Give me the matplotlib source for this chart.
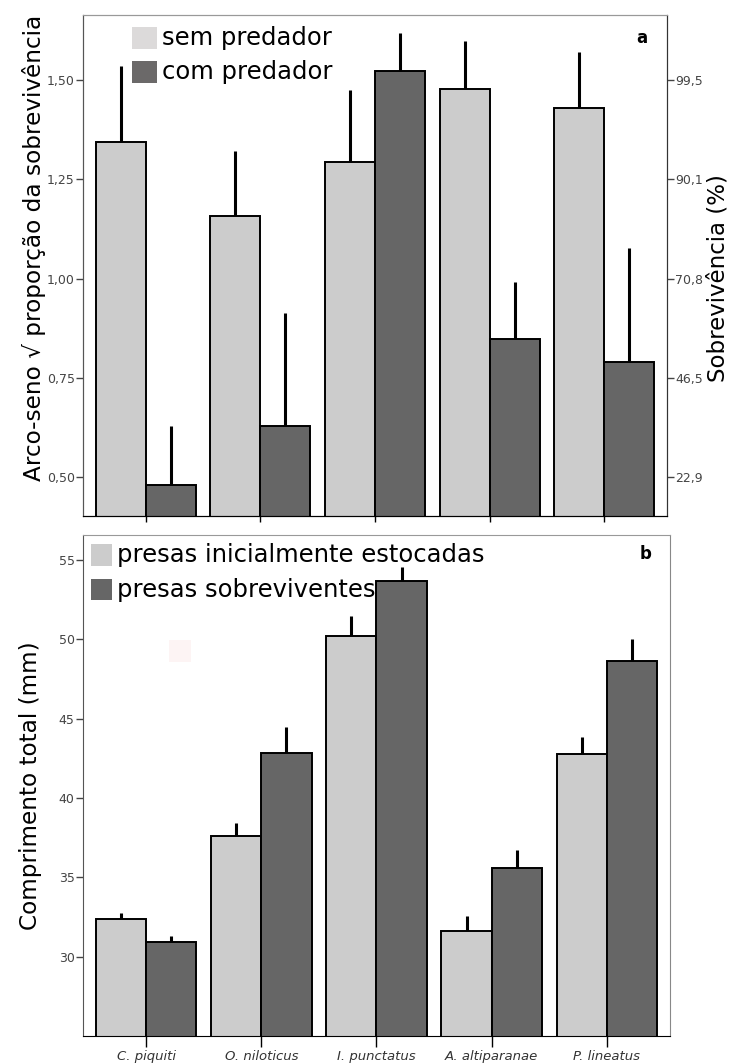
import numpy as np
import matplotlib
matplotlib.use("Agg")
import matplotlib.pyplot as plt
from matplotlib.patches import Rectangle

# =========================
# Data
# =========================
species = ["C. piquiti", "O. niloticus", "I. punctatus", "A. altiparanae", "P. lineatus"]

# (a) arcsine sqrt of survival proportion
surv_sem = [1.343, 1.158, 1.293, 1.477, 1.430]
surv_sem_err = [0.192, 0.164, 0.182, 0.122, 0.140]
surv_com = [0.480, 0.628, 1.523, 0.847, 0.790]
surv_com_err = [0.148, 0.286, 0.095, 0.145, 0.286]

# right axis: back-transformed survival (%)
asin_ticks = [0.50, 0.75, 1.00, 1.25, 1.50]
asin_tick_labels = ["0,50", "0,75", "1,00", "1,25", "1,50"]
pct_tick_labels = ["22,9", "46,5", "70,8", "90,1", "99,5"]

# (b) total length (mm)
len_ini = [32.36, 37.63, 50.20, 31.60, 42.79]
len_ini_err = [0.38, 0.82, 1.30, 0.99, 1.08]
len_sob = [30.93, 42.84, 53.68, 35.59, 48.61]
len_sob_err = [0.39, 1.64, 0.88, 1.16, 1.43]
len_ticks = [30, 35, 40, 45, 50, 55]

# =========================
# Style
# =========================
LIGHT = "#cccccc"
DARK = "#666666"
TICK_FONT = dict(family=["Liberation Sans Narrow", "DejaVu Sans"], fontsize=9, color="#444444")
LABEL_FONT = dict(family="DejaVu Sans", fontsize=16.7)
BAR_W = 0.436

x = np.arange(len(species))

fig = plt.figure(figsize=(7.3, 10.63), dpi=100)
ax1 = fig.add_axes([0.1137, 0.5146, 0.80, 0.4713])
ax2 = fig.add_axes([0.1137, 0.0254, 0.8041, 0.4713])


def draw_pairs(ax, v1, e1, v2, e2):
    for vals, errs, off, col in [(v1, e1, -BAR_W / 2, LIGHT), (v2, e2, BAR_W / 2, DARK)]:
        ax.bar(x + off, vals, width=BAR_W, color=col, edgecolor="black",
               linewidth=1.4, zorder=2)
        # only the upper whisker, no caps
        ax.errorbar(x + off, vals, yerr=[np.zeros(len(vals)), errs], fmt="none",
                    ecolor="black", elinewidth=2.2, capsize=0, zorder=1)


def legend_box(ax, items, x0, y0, dy, w, h, fs):
    for i, (col, txt) in enumerate(items):
        yy = y0 - i * dy
        ax.add_patch(Rectangle((x0, yy - h / 2), w, h, transform=ax.transAxes,
                               facecolor=col, edgecolor="none", zorder=5))
        ax.text(x0 + w + 0.008, yy, txt, transform=ax.transAxes, fontsize=fs,
                family="DejaVu Sans", va="center", ha="left", zorder=5)


# =========================
# (a) survival
# =========================
draw_pairs(ax1, surv_sem, surv_sem_err, surv_com, surv_com_err)
ax1.set_xlim(-0.547, len(species) - 1 + 0.547)
ax1.set_ylim(0.402, 1.664)
ax1.set_xticks(x)
ax1.set_xticklabels([])
ax1.tick_params(axis="x", length=4, width=1, color="black")
ax1.set_yticks(asin_ticks)
ax1.set_yticklabels(asin_tick_labels, **TICK_FONT)
ax1.tick_params(axis="y", length=5, width=1, color="#444444", pad=1)
ax1.set_ylabel("Arco-seno \u221a proporção da sobrevivência", **LABEL_FONT)
ax1.yaxis.set_label_coords(-0.064, 0.535)

ax1r = ax1.twinx()
ax1r.set_ylim(ax1.get_ylim())
ax1r.set_yticks(asin_ticks)
ax1r.set_yticklabels(pct_tick_labels, **TICK_FONT)
ax1r.tick_params(axis="y", length=5, width=1, color="#444444", pad=1)
ax1r.set_ylabel("Sobrevivência (%)", family="DejaVu Sans", fontsize=16.5)
ax1r.yaxis.set_label_coords(1.068, 0.475)

for a in (ax1, ax1r):
    a.spines["top"].set_color("#999999")
    a.spines["left"].set_color("#555555")
    a.spines["right"].set_color("#333333")
    a.spines["bottom"].set_color("black")

legend_box(ax1, [("#dcdada", "sem predador"), ("#6b6969", "com predador")],
           0.084, 0.955, 0.068, 0.043, 0.044, 17.5)
ax1.text(0.957, 0.955, "a", transform=ax1.transAxes, fontsize=12,
         fontweight="bold", family="DejaVu Sans", ha="center", va="center")

# =========================
# (b) total length
# =========================
draw_pairs(ax2, len_ini, len_ini_err, len_sob, len_sob_err)
ax2.set_xlim(-0.547, len(species) - 1 + 0.547)
ax2.set_ylim(25.0, 56.58)
ax2.set_xticks(x)
ax2.set_xticklabels(species, family=["Liberation Sans Narrow", "DejaVu Sans"],
                    fontsize=9.5, style="italic", color="#333333")
ax2.tick_params(axis="x", length=8, width=1, color="black", pad=2)
ax2.set_yticks(len_ticks)
ax2.set_yticklabels([str(t) for t in len_ticks], **TICK_FONT)
ax2.tick_params(axis="y", length=5, width=1, color="#444444", pad=1)
ax2.set_ylabel("Comprimento total (mm)", **LABEL_FONT)
ax2.yaxis.set_label_coords(-0.07, 0.5)

ax2.spines["top"].set_color("#999999")
ax2.spines["right"].set_color("#888888")
ax2.spines["left"].set_color("#555555")
ax2.spines["bottom"].set_color("black")

legend_box(ax2, [("#cccccc", "presas inicialmente estocadas"), ("#666666", "presas sobreviventes")],
           0.013, 0.96, 0.069, 0.037, 0.043, 17.5)
ax2.text(0.958, 0.962, "b", transform=ax2.transAxes, fontsize=12,
         fontweight="bold", family="DejaVu Sans", ha="center", va="center")

# faint smudge in the plot area
ax2.add_patch(Rectangle((0.147, 0.746), 0.037, 0.044, transform=ax2.transAxes,
                        facecolor="#fdf4f4", edgecolor="none", zorder=0))

fig.savefig("out.png", dpi=100)
